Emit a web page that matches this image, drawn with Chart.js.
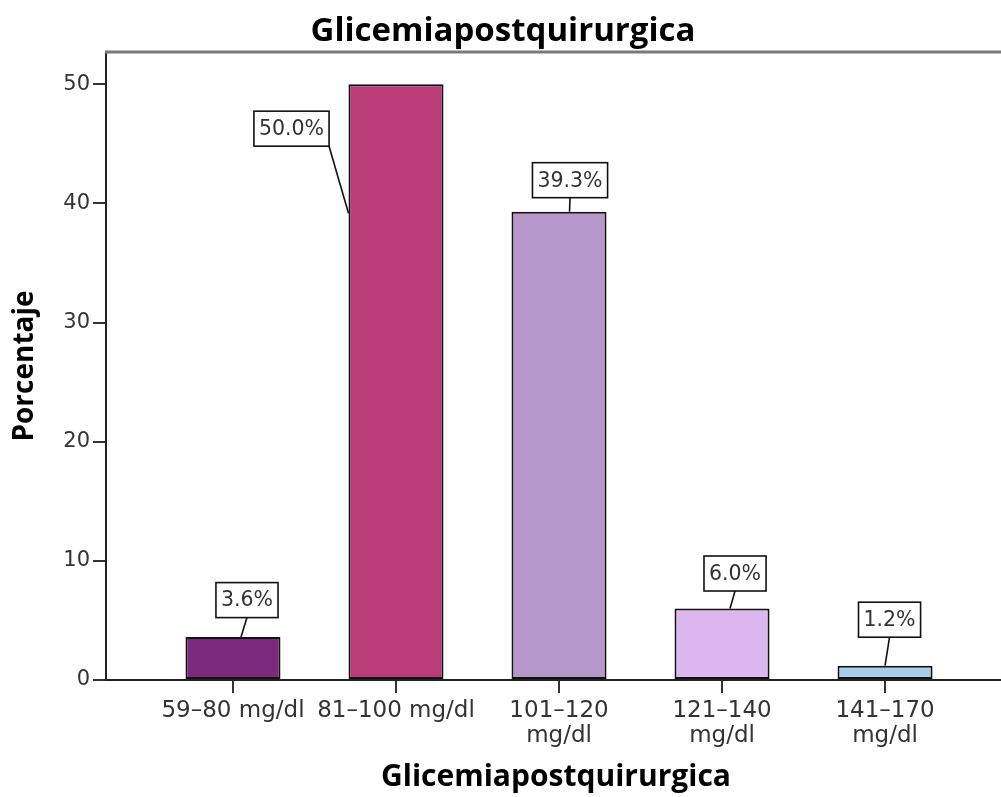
<!DOCTYPE html>
<html lang="es">
<head>
<meta charset="utf-8">
<title>Glicemiapostquirurgica</title>
<script src="https://cdn.jsdelivr.net/npm/chart.js@4.4.0/dist/chart.umd.min.js"></script>
<style>
  html, body { margin: 0; padding: 0; overflow: hidden; background: #fff; }
  #wrap { width: 1006px; height: 797px; position: relative; }
</style>
</head>
<body>
<div id="wrap"><canvas id="glucoseChart"></canvas></div>
<script>
// glucose ranges after surgery, share of patients in each
const categories = [
  ["59–80 mg/dl"],
  ["81–100 mg/dl"],
  ["101–120", "mg/dl"],
  ["121–140", "mg/dl"],
  ["141–170", "mg/dl"]
];
const percentages = [3.6, 50.0, 39.3, 6.0, 1.2];
const barColors = ["#7c2a7d", "#ba3d7a", "#b797c9", "#dcb6ee", "#a8cdea"];
const yTicks = [0, 10, 20, 30, 40, 50];

const tickFont = { family: "DejaVu Sans", size: 21 };
const titleFont = { family: "Open Sans", weight: "bold" };

// gray rule along the top of the plot frame
const frameTop = {
  id: "frameTop",
  beforeDatasetsDraw(chart) {
    const { ctx, chartArea } = chart;
    ctx.save();
    ctx.strokeStyle = "#7a7a7a";
    ctx.lineWidth = 3;
    ctx.beginPath();
    ctx.moveTo(chartArea.left - 1, chartArea.top);
    ctx.lineTo(chartArea.right, chartArea.top);
    ctx.stroke();
    ctx.restore();
  }
};

// boxed percentage labels with a leader line down to each bar
const callouts = {
  id: "callouts",
  afterDatasetsDraw(chart, args, opts) {
    const ctx = chart.ctx;
    const meta = chart.getDatasetMeta(0);
    const values = chart.data.datasets[0].data;
    ctx.save();
    ctx.font = "20.5px 'DejaVu Sans'";
    ctx.lineWidth = 1.6;
    meta.data.forEach((bar, i) => {
      const place = opts.placement[i];
      const text = values[i].y.toFixed(1) + "%";
      const w = ctx.measureText(text).width + opts.padX * 2;
      const h = opts.boxHeight;
      const cx = bar.x + place.box[0];
      const cy = bar.y + place.box[1];
      const left = cx - w / 2, right = cx + w / 2;
      const top = cy - h / 2, bottom = cy + h / 2;
      const tipX = bar.x + place.tip[0];
      const tipY = bar.y + place.tip[1];
      let sx = cx;
      if (tipX > right) sx = right;
      else if (tipX < left) sx = left;

      ctx.strokeStyle = "#111";
      ctx.beginPath();
      ctx.moveTo(sx, bottom);
      ctx.lineTo(tipX, tipY);
      ctx.stroke();

      ctx.fillStyle = "#fff";
      ctx.fillRect(left, top, w, h);
      ctx.strokeRect(left, top, w, h);

      ctx.fillStyle = "#333";
      ctx.textAlign = "center";
      ctx.textBaseline = "middle";
      ctx.fillText(text, cx, cy + 1);
    });
    ctx.restore();
  }
};

new Chart(document.getElementById("glucoseChart"), {
  type: "bar",
  data: {
    datasets: [{
      data: percentages.map((v, i) => ({ x: i, y: v })),
      backgroundColor: barColors,
      borderColor: "#111",
      borderWidth: 2,
      borderSkipped: false,
      barPercentage: 1,
      categoryPercentage: 0.583
    }]
  },
  options: {
    responsive: true,
    maintainAspectRatio: false,
    devicePixelRatio: 1,
    animation: false,
    layout: { padding: 0 },
    plugins: {
      legend: { display: false },
      tooltip: { enabled: false },
      title: {
        display: true,
        text: "Glicemiapostquirurgica",
        color: "#000",
        font: { ...titleFont, size: 33, lineHeight: 1.2 },
        padding: { top: 12, bottom: 0.4 }
      },
      callouts: {
        padX: 5,
        boxHeight: 35,
        placement: [
          { box: [14, -37], tip: [8, 0] },
          { box: [-104.5, 44.5], tip: [-47.5, 129] },
          { box: [11, -31.5], tip: [10.5, 0] },
          { box: [13, -35], tip: [8, 0] },
          { box: [4.5, -46], tip: [0, 0] }
        ]
      }
    },
    scales: {
      x: {
        type: "linear",
        min: -0.779,
        max: 4.742,
        offset: false,
        afterBuildTicks: (s) => { s.ticks = categories.map((_, i) => ({ value: i })); },
        afterFit: (s) => { s.height = 117; s.paddingLeft = 0; s.paddingRight = 0; },
        grid: { drawOnChartArea: false, offset: false, tickLength: 13, color: "#333", lineWidth: 2 },
        border: { display: true, color: "#222", width: 2 },
        ticks: {
          autoSkip: false,
          maxRotation: 0,
          padding: 5,
          color: "#333",
          font: { family: "DejaVu Sans", size: 23, lineHeight: 1.1 },
          callback: (v) => categories[v]
        },
        title: {
          display: true,
          text: "Glicemiapostquirurgica",
          color: "#000",
          font: { ...titleFont, size: 30, lineHeight: 1.2 },
          padding: { top: 0, bottom: 2 }
        }
      },
      y: {
        min: 0,
        max: 52.7,
        afterBuildTicks: (s) => { s.ticks = yTicks.map((v) => ({ value: v })); },
        afterFit: (s) => { s.width = 106; },
        grid: { drawOnChartArea: false, tickLength: 13, color: "#333", lineWidth: 2 },
        border: { display: true, color: "#222", width: 2 },
        ticks: { padding: 3, color: "#333", font: tickFont },
        title: {
          display: true,
          text: "Porcentaje",
          color: "#000",
          font: { ...titleFont, size: 28, lineHeight: 1.2 },
          padding: { top: 8, bottom: 0 }
        }
      }
    }
  },
  plugins: [frameTop, callouts]
});
</script>
</body>
</html>
